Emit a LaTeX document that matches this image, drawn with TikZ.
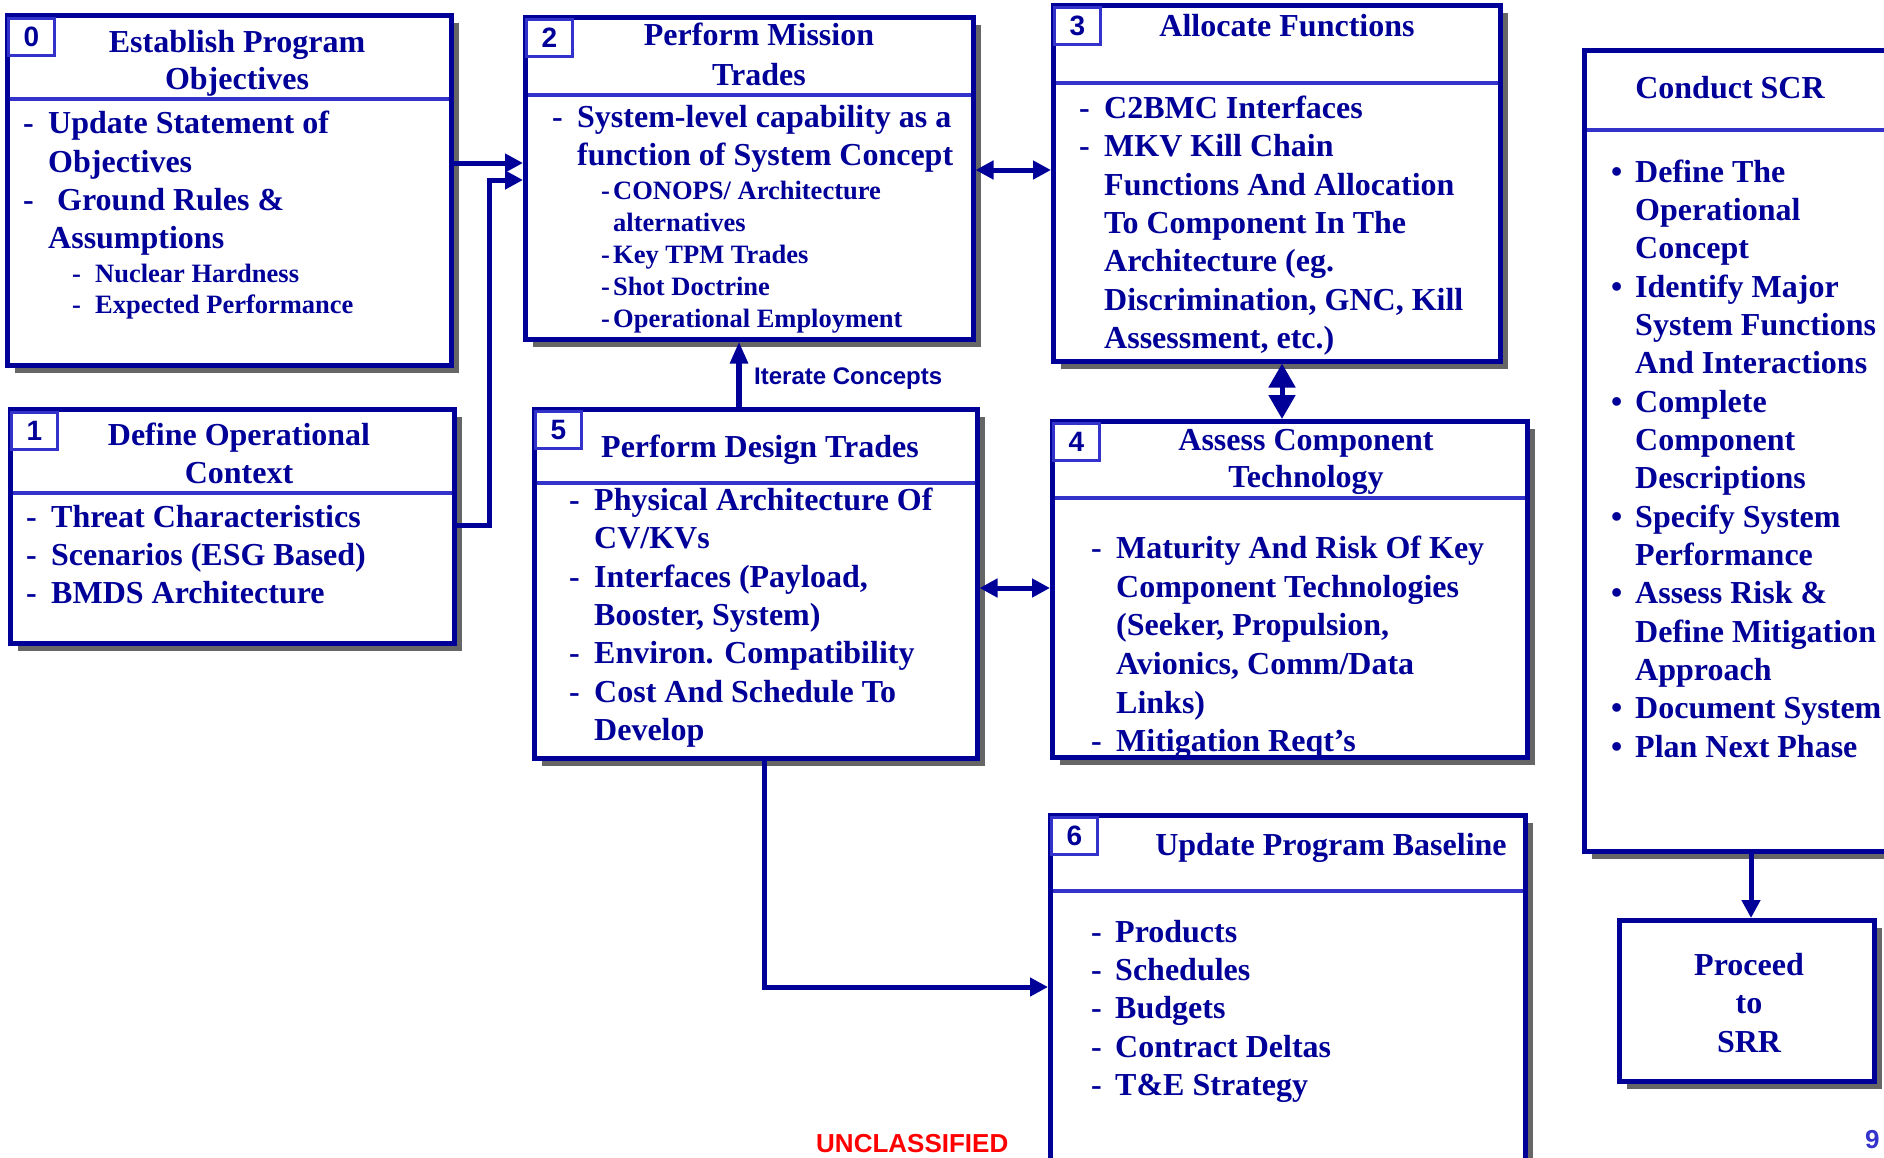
\documentclass[tikz,border=0pt]{standalone}
\usepackage{fontspec}
\setmainfont{Liberation Serif}
\newfontfamily\arialfam{Liberation Sans}
\usetikzlibrary{arrows.meta,shadows}
\definecolor{dnavy}{RGB}{0,0,153}
\definecolor{lblue}{RGB}{51,51,204}
\definecolor{shgray}{RGB}{102,102,102}
\definecolor{ured}{RGB}{255,0,0}
\newcommand\myBig{\fontsize{32}{38}\selectfont\bfseries}
\newcommand\mySub{\fontsize{26.5}{32}\selectfont\bfseries}
\newcommand\myNum{\arialfam\fontsize{28}{32}\selectfont\bfseries}
\newcommand\zTi[4]{\node[ttl] (#1) at (#2,#3) {#4};}
\newcommand\zIt[4]{\node[itm] (#1) at (#2,#3) {#4};}
\newcommand\zSi[4]{\node[sitm] (#1) at (#2,#3) {#4};}
\newcommand\zDs[3]{\node[itm] (#1) at (#2,#3) {-};}
\newcommand\zSd[3]{\node[sitm] (#1) at (#2,#3) {-};}
\newcommand\zBu[3]{\node[itm] (#1) at (#2,#3) {•};}
\tikzset{
  box/.style={draw=dnavy, line width=4.5pt, fill=white, rectangle, anchor=north west, inner sep=0pt,
    drop shadow={shadow xshift=8pt, shadow yshift=-8pt, fill=shgray, opacity=1}},
  numbox/.style={draw=lblue, line width=3pt, fill=white, anchor=north west, inner sep=0pt,
    minimum width=46pt, minimum height=37pt, text=dnavy, font=\myNum},
  hdr/.style={draw=lblue, line width=3.5pt, shorten <=4.5pt, shorten >=4.5pt},
  ttl/.style={anchor=base, inner sep=0pt, text=dnavy, font=\myBig},
  itm/.style={anchor=base west, inner sep=0pt, text=dnavy, font=\myBig},
  sitm/.style={itm, font=\mySub},
  conn/.style={draw=dnavy, line width=5pt, line join=miter},
  ahd/.tip={Triangle[length=18pt,width=18pt]},
  bigahd/.tip={Triangle[length=24pt,width=26pt]},
  itahd/.tip={Triangle[length=22pt,width=17pt]}
}
\begin{document}
\begin{tikzpicture}[x=1pt,y=-1pt]
\useasboundingbox (0,0) rectangle (1884,1157);
\clip (0,0) rectangle (1884,1157);
\fill[white] (0,0) rectangle (1884,1157);

% boxes
\node[box, minimum width=444pt, minimum height=350pt] (b0) at (5,13) {};
\node[box, minimum width=444pt, minimum height=234pt] (b1) at (8,407) {};
\node[box, minimum width=448pt, minimum height=322pt] (b2) at (523,15) {};
\node[box, minimum width=447pt, minimum height=356pt] (b3) at (1051,3) {};
\node[box, minimum width=475pt, minimum height=336pt] (b4) at (1050,419) {};
\node[box, minimum width=443pt, minimum height=349pt] (b5) at (532,407) {};
\node[box, minimum width=475pt, minimum height=400pt] (b6) at (1048,813) {};
\node[box, minimum width=340pt, minimum height=801pt] (scr) at (1582,48) {};
\node[box, minimum width=255pt, minimum height=161pt] (pr) at (1617,918) {};

% header lines
\coordinate (h0) at (0,99);
\coordinate (h1) at (0,493);
\coordinate (h2) at (0,95);
\coordinate (h3) at (0,83);
\coordinate (h4) at (0,498);
\coordinate (h5) at (0,483);
\coordinate (h6) at (0,891);
\coordinate (hs) at (0,130);
\draw[hdr] (b0.west |- h0) -- (b0.east |- h0);
\draw[hdr] (b1.west |- h1) -- (b1.east |- h1);
\draw[hdr] (b2.west |- h2) -- (b2.east |- h2);
\draw[hdr] (b3.west |- h3) -- (b3.east |- h3);
\draw[hdr] (b4.west |- h4) -- (b4.east |- h4);
\draw[hdr] (b5.west |- h5) -- (b5.east |- h5);
\draw[hdr] (b6.west |- h6) -- (b6.east |- h6);
\draw[hdr] (scr.west |- hs) -- (scr.east |- hs);

% number boxes
\node[numbox] (n0) at (7,17) {0};
\node[numbox] (n1) at (10,411) {1};
\node[numbox] (n2) at (525,18) {2};
\node[numbox] (n3) at (1053,6) {3};
\node[numbox] (n4) at (1052,422) {4};
\node[numbox] (n5) at (534,410) {5};
\node[numbox] (n6) at (1050,816) {6};

% box 0
\zTi{t0a}{237}{52}{Establish Program}
\zTi{t0b}{237}{89}{Objectives}
\zDs{d0a}{23}{133}
\zIt{i0a}{48}{133}{Update Statement of}
\zIt{i0b}{48}{172}{Objectives}
\zDs{d0b}{23}{210}
\zIt{i0c}{57}{210}{Ground Rules \&}
\zIt{i0d}{48}{248}{Assumptions}
\zSd{d0c}{72}{282}
\zSi{i0e}{95}{282}{Nuclear Hardness}
\zSd{d0d}{72}{313}
\zSi{i0f}{95}{313}{Expected Performance}

% box 1
\zTi{t1a}{239}{445}{Define Operational}
\zTi{t1b}{239}{483}{Context}
\zDs{d1a}{26}{527}
\zIt{i1a}{51}{527}{Threat Characteristics}
\zDs{d1b}{26}{565}
\zIt{i1b}{51}{565}{Scenarios (ESG Based)}
\zDs{d1c}{26}{603}
\zIt{i1c}{51}{603}{BMDS Architecture}

% box 2
\zTi{t2a}{759}{45}{Perform Mission}
\zTi{t2b}{759}{85}{Trades}
\zDs{d2a}{552}{127}
\zIt{i2a}{577}{127}{System-level capability as a}
\zIt{i2b}{577}{165}{function of System Concept}
\zSd{d2b}{601}{199}
\zSi{i2c}{613}{199}{CONOPS/ Architecture}
\zSi{i2d}{613}{231}{alternatives}
\zSd{d2c}{601}{263}
\zSi{i2e}{613}{263}{Key TPM Trades}
\zSd{d2d}{601}{295}
\zSi{i2f}{613}{295}{Shot Doctrine}
\zSd{d2e}{601}{327}
\zSi{i2g}{613}{327}{Operational Employment}

% box 3
\zTi{t3a}{1287}{36}{Allocate Functions}
\zDs{d3a}{1079}{118}
\zIt{i3a}{1104}{118}{C2BMC Interfaces}
\zDs{d3b}{1079}{156}
\zIt{i3b}{1104}{156}{MKV Kill Chain}
\zIt{i3c}{1104}{195}{Functions And Allocation}
\zIt{i3d}{1104}{233}{To Component In The}
\zIt{i3e}{1104}{271}{Architecture (eg.}
\zIt{i3f}{1104}{310}{Discrimination, GNC, Kill}
\zIt{i3g}{1104}{348}{Assessment, etc.)}

% box 4
\zTi{t4a}{1306}{450}{Assess Component}
\zTi{t4b}{1306}{487}{Technology}
\zDs{d4a}{1091}{558}
\zIt{i4a}{1116}{558}{Maturity And Risk Of Key}
\zIt{i4b}{1116}{597}{Component Technologies}
\zIt{i4c}{1116}{635}{(Seeker, Propulsion,}
\zIt{i4d}{1116}{674}{Avionics, Comm/Data}
\zIt{i4e}{1116}{713}{Links)}
\zDs{d4b}{1091}{751}
\zIt{i4f}{1116}{751}{Mitigation Reqt’s}

% box 5
\zTi{t5a}{760}{457}{Perform Design Trades}
\zDs{d5a}{569}{510}
\zIt{i5a}{594}{510}{Physical Architecture Of}
\zIt{i5b}{594}{548}{CV/KVs}
\zDs{d5b}{569}{587}
\zIt{i5c}{594}{587}{Interfaces (Payload,}
\zIt{i5d}{594}{625}{Booster, System)}
\zDs{d5c}{569}{663}
\zIt{i5e}{594}{663}{Environ. Compatibility}
\zDs{d5d}{569}{702}
\zIt{i5f}{594}{702}{Cost And Schedule To}
\zIt{i5g}{594}{740}{Develop}

% box 6
\zTi{t6a}{1331}{855}{Update Program Baseline}
\zDs{d6a}{1091}{942}
\zIt{i6a}{1115}{942}{Products}
\zDs{d6b}{1091}{980}
\zIt{i6b}{1115}{980}{Schedules}
\zDs{d6c}{1091}{1018}
\zIt{i6c}{1115}{1018}{Budgets}
\zDs{d6d}{1091}{1057}
\zIt{i6d}{1115}{1057}{Contract Deltas}
\zDs{d6e}{1091}{1095}
\zIt{i6e}{1115}{1095}{T\&E Strategy}

% Conduct SCR
\zTi{tsa}{1730}{98}{Conduct SCR}
\zBu{usa}{1611}{182}
\zIt{isa}{1635}{182}{Define The}
\zIt{isb}{1635}{220}{Operational}
\zIt{isc}{1635}{258}{Concept}
\zBu{usb}{1611}{297}
\zIt{isd}{1635}{297}{Identify Major}
\zIt{ise}{1635}{335}{System Functions}
\zIt{isf}{1635}{373}{And Interactions}
\zBu{usc}{1611}{412}
\zIt{isg}{1635}{412}{Complete}
\zIt{ish}{1635}{450}{Component}
\zIt{isi}{1635}{488}{Descriptions}
\zBu{usd}{1611}{527}
\zIt{isj}{1635}{527}{Specify System}
\zIt{isk}{1635}{565}{Performance}
\zBu{use}{1611}{603}
\zIt{isl}{1635}{603}{Assess Risk \&}
\zIt{ism}{1635}{642}{Define Mitigation}
\zIt{isn}{1635}{680}{Approach}
\zBu{usf}{1611}{718}
\zIt{iso}{1635}{718}{Document System}
\zBu{usg}{1611}{757}
\zIt{isp}{1635}{757}{Plan Next Phase}

% Proceed
\zTi{tpa}{1749}{975}{Proceed}
\zTi{tpb}{1749}{1013}{to}
\zTi{tpc}{1749}{1052}{SRR}

% connectors
\coordinate (y163) at (0,163);
\coordinate (y525) at (0,525);
\coordinate (j1) at (489,180);
\coordinate (y170) at (0,170);
\coordinate (x1282) at (1282,0);
\coordinate (y588) at (0,588);
\coordinate (x739) at (739,0);
\coordinate (x764) at (764,0);
\coordinate (y987) at (0,987);
\coordinate (x1751) at (1751,0);

\draw[conn,-ahd] (b0.east |- y163) -- (b2.west |- y163);
\draw[conn,-ahd] (b1.east |- y525) -| (j1) -- (b2.west |- j1);
\draw[conn,ahd-ahd] (b2.east |- y170) -- (b3.west |- y170);
\draw[conn,bigahd-bigahd] (b3.south -| x1282) -- (b4.north -| x1282);
\draw[conn,ahd-ahd] (b5.east |- y588) -- (b4.west |- y588);
\draw[conn,line width=6pt,-itahd] (b5.north -| x739) -- (b2.south -| x739);
\draw[conn,-ahd] (b5.south -| x764) |- (b6.west |- y987);
\draw[conn,-ahd] (scr.south -| x1751) -- (pr.north -| x1751);

\node[anchor=base west, inner sep=0pt, text=dnavy, font={\arialfam\fontsize{24}{28}\selectfont\bfseries}] (lit) at (754,384) {Iterate Concepts};

% footer
\node[anchor=base west, inner sep=0pt, text=ured, font={\arialfam\fontsize{26}{30}\selectfont\bfseries}] (unc) at (816,1152) {UNCLASSIFIED};
\node[anchor=base west, inner sep=0pt, text=lblue, font={\arialfam\fontsize{26}{30}\selectfont\bfseries}] (pg) at (1865,1148) {9};
\end{tikzpicture}
\end{document}
